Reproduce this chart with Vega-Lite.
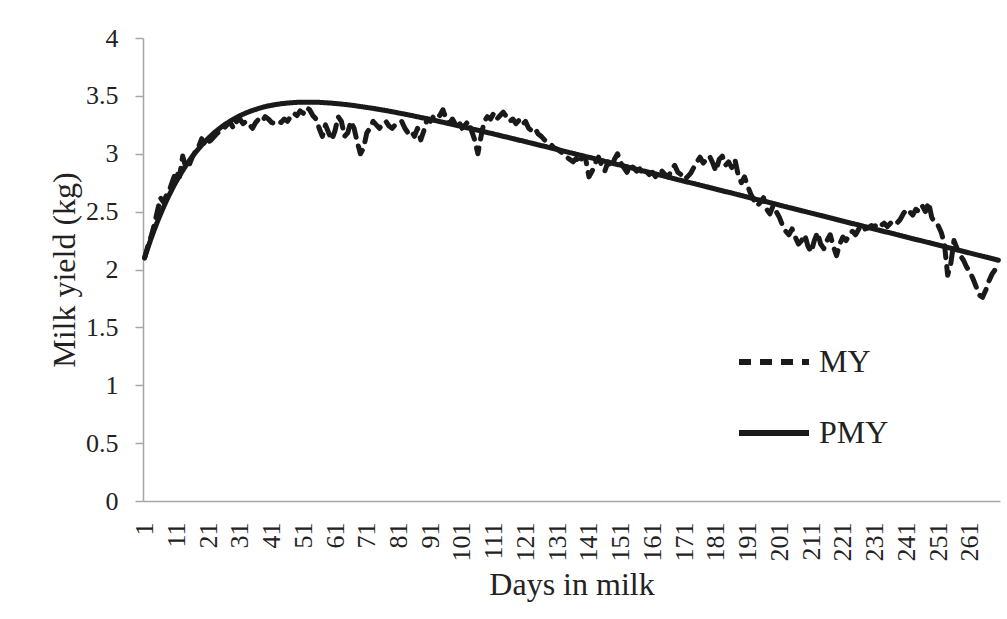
{
  "$schema": "https://vega.github.io/schema/vega-lite/v6.json",
  "width": 857,
  "height": 463,
  "autosize": {"type": "none"},
  "padding": {"left": 143, "top": 38, "right": 7, "bottom": 118},
  "background": "white",
  "config": {
    "view": {"stroke": null},
    "font": "Liberation Serif",
    "axis": {"labelFont": "Liberation Serif", "titleFont": "Liberation Serif", "labelColor": "#222", "titleColor": "#222", "domainColor": "#a6a6a6", "tickColor": "#a6a6a6", "domainWidth": 1.5, "tickWidth": 1.5, "grid": false, "labelFontSize": 26, "titleFontSize": 32, "titleFontWeight": "normal"},
    "legend": {"labelFont": "Liberation Serif", "labelFontSize": 32, "labelColor": "#222"}
  },
  "data": {
    "values": [
      {"d":1,"MY":2.10,"PMY":2.101},{"d":2,"MY":2.20,"PMY":2.184},{"d":3,"MY":2.28,"PMY":2.264},{"d":4,"MY":2.38,"PMY":2.339},{"d":5,"MY":2.50,"PMY":2.410},
      {"d":6,"MY":2.62,"PMY":2.477},{"d":7,"MY":2.58,"PMY":2.541},{"d":8,"MY":2.65,"PMY":2.601},{"d":9,"MY":2.70,"PMY":2.657},{"d":10,"MY":2.78,"PMY":2.711},
      {"d":11,"MY":2.85,"PMY":2.762},{"d":12,"MY":2.80,"PMY":2.809},{"d":13,"MY":2.98,"PMY":2.854},{"d":14,"MY":2.88,"PMY":2.897},{"d":15,"MY":2.90,"PMY":2.937},
      {"d":16,"MY":2.97,"PMY":2.975},{"d":17,"MY":3.02,"PMY":3.010},{"d":18,"MY":3.06,"PMY":3.043},{"d":19,"MY":3.13,"PMY":3.075},{"d":20,"MY":3.07,"PMY":3.104},
      {"d":21,"MY":3.10,"PMY":3.132},{"d":22,"MY":3.12,"PMY":3.158},{"d":23,"MY":3.15,"PMY":3.183},{"d":24,"MY":3.18,"PMY":3.205},{"d":25,"MY":3.20,"PMY":3.227},
      {"d":26,"MY":3.22,"PMY":3.247},{"d":27,"MY":3.25,"PMY":3.265},{"d":28,"MY":3.27,"PMY":3.283},{"d":29,"MY":3.22,"PMY":3.299},{"d":30,"MY":3.28,"PMY":3.314},
      {"d":31,"MY":3.30,"PMY":3.328},{"d":32,"MY":3.26,"PMY":3.341},{"d":33,"MY":3.28,"PMY":3.353},{"d":34,"MY":3.25,"PMY":3.364},{"d":35,"MY":3.22,"PMY":3.374},
      {"d":36,"MY":3.27,"PMY":3.383},{"d":37,"MY":3.30,"PMY":3.392},{"d":38,"MY":3.28,"PMY":3.400},{"d":39,"MY":3.32,"PMY":3.407},{"d":40,"MY":3.30,"PMY":3.413},
      {"d":41,"MY":3.27,"PMY":3.418},{"d":42,"MY":3.26,"PMY":3.424},{"d":43,"MY":3.28,"PMY":3.428},{"d":44,"MY":3.27,"PMY":3.432},{"d":45,"MY":3.30,"PMY":3.435},
      {"d":46,"MY":3.28,"PMY":3.438},{"d":47,"MY":3.32,"PMY":3.440},{"d":48,"MY":3.35,"PMY":3.442},{"d":49,"MY":3.33,"PMY":3.444},{"d":50,"MY":3.37,"PMY":3.445},
      {"d":51,"MY":3.35,"PMY":3.446},{"d":52,"MY":3.40,"PMY":3.446},{"d":53,"MY":3.38,"PMY":3.446},{"d":54,"MY":3.33,"PMY":3.445},{"d":55,"MY":3.30,"PMY":3.445},
      {"d":56,"MY":3.22,"PMY":3.444},{"d":57,"MY":3.15,"PMY":3.442},{"d":58,"MY":3.25,"PMY":3.441},{"d":59,"MY":3.18,"PMY":3.439},{"d":60,"MY":3.12,"PMY":3.437},
      {"d":61,"MY":3.20,"PMY":3.434},{"d":62,"MY":3.32,"PMY":3.432},{"d":63,"MY":3.28,"PMY":3.429},{"d":64,"MY":3.15,"PMY":3.426},{"d":65,"MY":3.18,"PMY":3.423},
      {"d":66,"MY":3.28,"PMY":3.420},{"d":67,"MY":3.22,"PMY":3.416},{"d":68,"MY":3.10,"PMY":3.412},{"d":69,"MY":3.00,"PMY":3.408},{"d":70,"MY":3.05,"PMY":3.404},
      {"d":71,"MY":3.18,"PMY":3.400},{"d":72,"MY":3.22,"PMY":3.396},{"d":73,"MY":3.28,"PMY":3.392},{"d":74,"MY":3.25,"PMY":3.387},{"d":75,"MY":3.22,"PMY":3.382},
      {"d":76,"MY":3.26,"PMY":3.378},{"d":77,"MY":3.28,"PMY":3.373},{"d":78,"MY":3.24,"PMY":3.368},{"d":79,"MY":3.22,"PMY":3.363},{"d":80,"MY":3.25,"PMY":3.358},
      {"d":81,"MY":3.27,"PMY":3.352},{"d":82,"MY":3.28,"PMY":3.347},{"d":83,"MY":3.22,"PMY":3.342},{"d":84,"MY":3.18,"PMY":3.336},{"d":85,"MY":3.20,"PMY":3.331},
      {"d":86,"MY":3.15,"PMY":3.325},{"d":87,"MY":3.22,"PMY":3.319},{"d":88,"MY":3.12,"PMY":3.313},{"d":89,"MY":3.20,"PMY":3.308},{"d":90,"MY":3.30,"PMY":3.302},
      {"d":91,"MY":3.28,"PMY":3.296},{"d":92,"MY":3.32,"PMY":3.290},{"d":93,"MY":3.35,"PMY":3.284},{"d":94,"MY":3.33,"PMY":3.278},{"d":95,"MY":3.38,"PMY":3.272},
      {"d":96,"MY":3.30,"PMY":3.266},{"d":97,"MY":3.26,"PMY":3.260},{"d":98,"MY":3.30,"PMY":3.253},{"d":99,"MY":3.25,"PMY":3.247},{"d":100,"MY":3.28,"PMY":3.241},
      {"d":101,"MY":3.22,"PMY":3.235},{"d":102,"MY":3.25,"PMY":3.228},{"d":103,"MY":3.28,"PMY":3.222},{"d":104,"MY":3.20,"PMY":3.215},{"d":105,"MY":3.12,"PMY":3.209},
      {"d":106,"MY":3.00,"PMY":3.203},{"d":107,"MY":3.15,"PMY":3.196},{"d":108,"MY":3.28,"PMY":3.190},{"d":109,"MY":3.32,"PMY":3.183},{"d":110,"MY":3.30,"PMY":3.177},
      {"d":111,"MY":3.35,"PMY":3.170},{"d":112,"MY":3.30,"PMY":3.164},{"d":113,"MY":3.33,"PMY":3.157},{"d":114,"MY":3.36,"PMY":3.150},{"d":115,"MY":3.32,"PMY":3.144},
      {"d":116,"MY":3.28,"PMY":3.137},{"d":117,"MY":3.30,"PMY":3.131},{"d":118,"MY":3.26,"PMY":3.124},{"d":119,"MY":3.29,"PMY":3.117},{"d":120,"MY":3.25,"PMY":3.111},
      {"d":121,"MY":3.28,"PMY":3.104},{"d":122,"MY":3.22,"PMY":3.097},{"d":123,"MY":3.20,"PMY":3.091},{"d":124,"MY":3.22,"PMY":3.084},{"d":125,"MY":3.17,"PMY":3.077},
      {"d":126,"MY":3.15,"PMY":3.070},{"d":127,"MY":3.12,"PMY":3.064},{"d":128,"MY":3.10,"PMY":3.057},{"d":129,"MY":3.08,"PMY":3.050},{"d":130,"MY":3.05,"PMY":3.043},
      {"d":131,"MY":3.04,"PMY":3.037},{"d":132,"MY":3.02,"PMY":3.030},{"d":133,"MY":3.00,"PMY":3.023},{"d":134,"MY":2.97,"PMY":3.016},{"d":135,"MY":2.95,"PMY":3.009},
      {"d":136,"MY":2.93,"PMY":3.003},{"d":137,"MY":2.96,"PMY":2.996},{"d":138,"MY":2.92,"PMY":2.989},{"d":139,"MY":2.98,"PMY":2.982},{"d":140,"MY":2.95,"PMY":2.975},
      {"d":141,"MY":2.80,"PMY":2.969},{"d":142,"MY":2.85,"PMY":2.962},{"d":143,"MY":2.92,"PMY":2.955},{"d":144,"MY":2.97,"PMY":2.948},{"d":145,"MY":2.90,"PMY":2.941},
      {"d":146,"MY":2.85,"PMY":2.934},{"d":147,"MY":2.93,"PMY":2.928},{"d":148,"MY":2.88,"PMY":2.921},{"d":149,"MY":2.95,"PMY":2.914},{"d":150,"MY":3.00,"PMY":2.907},
      {"d":151,"MY":2.92,"PMY":2.901},{"d":152,"MY":2.88,"PMY":2.894},{"d":153,"MY":2.84,"PMY":2.887},{"d":154,"MY":2.90,"PMY":2.880},{"d":155,"MY":2.88,"PMY":2.873},
      {"d":156,"MY":2.85,"PMY":2.866},{"d":157,"MY":2.87,"PMY":2.859},{"d":158,"MY":2.83,"PMY":2.852},{"d":159,"MY":2.85,"PMY":2.845},{"d":160,"MY":2.82,"PMY":2.839},
      {"d":161,"MY":2.84,"PMY":2.832},{"d":162,"MY":2.80,"PMY":2.825},{"d":163,"MY":2.83,"PMY":2.818},{"d":164,"MY":2.85,"PMY":2.811},{"d":165,"MY":2.82,"PMY":2.804},
      {"d":166,"MY":2.80,"PMY":2.797},{"d":167,"MY":2.86,"PMY":2.790},{"d":168,"MY":2.90,"PMY":2.783},{"d":169,"MY":2.84,"PMY":2.776},{"d":170,"MY":2.82,"PMY":2.770},
      {"d":171,"MY":2.78,"PMY":2.763},{"d":172,"MY":2.80,"PMY":2.756},{"d":173,"MY":2.83,"PMY":2.749},{"d":174,"MY":2.88,"PMY":2.742},{"d":175,"MY":2.93,"PMY":2.736},
      {"d":176,"MY":2.97,"PMY":2.729},{"d":177,"MY":2.92,"PMY":2.722},{"d":178,"MY":2.95,"PMY":2.715},{"d":179,"MY":2.98,"PMY":2.708},{"d":180,"MY":2.92,"PMY":2.701},
      {"d":181,"MY":2.85,"PMY":2.694},{"d":182,"MY":2.95,"PMY":2.687},{"d":183,"MY":2.98,"PMY":2.680},{"d":184,"MY":2.90,"PMY":2.673},{"d":185,"MY":2.93,"PMY":2.667},
      {"d":186,"MY":2.88,"PMY":2.660},{"d":187,"MY":2.95,"PMY":2.653},{"d":188,"MY":2.82,"PMY":2.646},{"d":189,"MY":2.75,"PMY":2.639},{"d":190,"MY":2.80,"PMY":2.632},
      {"d":191,"MY":2.72,"PMY":2.625},{"d":192,"MY":2.65,"PMY":2.618},{"d":193,"MY":2.60,"PMY":2.611},{"d":194,"MY":2.55,"PMY":2.604},{"d":195,"MY":2.58,"PMY":2.598},
      {"d":196,"MY":2.62,"PMY":2.591},{"d":197,"MY":2.52,"PMY":2.584},{"d":198,"MY":2.48,"PMY":2.577},{"d":199,"MY":2.55,"PMY":2.570},{"d":200,"MY":2.50,"PMY":2.563},
      {"d":201,"MY":2.45,"PMY":2.556},{"d":202,"MY":2.38,"PMY":2.549},{"d":203,"MY":2.33,"PMY":2.542},{"d":204,"MY":2.30,"PMY":2.535},{"d":205,"MY":2.35,"PMY":2.529},
      {"d":206,"MY":2.28,"PMY":2.522},{"d":207,"MY":2.22,"PMY":2.515},{"d":208,"MY":2.25,"PMY":2.508},{"d":209,"MY":2.30,"PMY":2.501},{"d":210,"MY":2.20,"PMY":2.494},
      {"d":211,"MY":2.15,"PMY":2.487},{"d":212,"MY":2.25,"PMY":2.480},{"d":213,"MY":2.32,"PMY":2.473},{"d":214,"MY":2.22,"PMY":2.467},{"d":215,"MY":2.18,"PMY":2.460},
      {"d":216,"MY":2.25,"PMY":2.453},{"d":217,"MY":2.30,"PMY":2.446},{"d":218,"MY":2.20,"PMY":2.439},{"d":219,"MY":2.12,"PMY":2.432},{"d":220,"MY":2.22,"PMY":2.425},
      {"d":221,"MY":2.28,"PMY":2.418},{"d":222,"MY":2.25,"PMY":2.411},{"d":223,"MY":2.30,"PMY":2.404},{"d":224,"MY":2.33,"PMY":2.397},{"d":225,"MY":2.30,"PMY":2.391},
      {"d":226,"MY":2.35,"PMY":2.384},{"d":227,"MY":2.38,"PMY":2.377},{"d":228,"MY":2.35,"PMY":2.370},{"d":229,"MY":2.36,"PMY":2.363},{"d":230,"MY":2.38,"PMY":2.356},
      {"d":231,"MY":2.37,"PMY":2.349},{"d":232,"MY":2.40,"PMY":2.342},{"d":233,"MY":2.38,"PMY":2.335},{"d":234,"MY":2.40,"PMY":2.328},{"d":235,"MY":2.37,"PMY":2.322},
      {"d":236,"MY":2.40,"PMY":2.315},{"d":237,"MY":2.42,"PMY":2.308},{"d":238,"MY":2.40,"PMY":2.301},{"d":239,"MY":2.43,"PMY":2.294},{"d":240,"MY":2.48,"PMY":2.287},
      {"d":241,"MY":2.52,"PMY":2.280},{"d":242,"MY":2.50,"PMY":2.273},{"d":243,"MY":2.47,"PMY":2.266},{"d":244,"MY":2.52,"PMY":2.259},{"d":245,"MY":2.50,"PMY":2.253},
      {"d":246,"MY":2.55,"PMY":2.246},{"d":247,"MY":2.50,"PMY":2.239},{"d":248,"MY":2.58,"PMY":2.232},{"d":249,"MY":2.45,"PMY":2.225},{"d":250,"MY":2.40,"PMY":2.218},
      {"d":251,"MY":2.38,"PMY":2.211},{"d":252,"MY":2.32,"PMY":2.204},{"d":253,"MY":2.22,"PMY":2.197},{"d":254,"MY":1.95,"PMY":2.190},{"d":255,"MY":2.05,"PMY":2.184},
      {"d":256,"MY":2.25,"PMY":2.177},{"d":257,"MY":2.18,"PMY":2.170},{"d":258,"MY":2.12,"PMY":2.163},{"d":259,"MY":2.08,"PMY":2.156},{"d":260,"MY":2.02,"PMY":2.149},
      {"d":261,"MY":1.98,"PMY":2.142},{"d":262,"MY":1.92,"PMY":2.135},{"d":263,"MY":1.85,"PMY":2.128},{"d":264,"MY":1.78,"PMY":2.121},{"d":265,"MY":1.76,"PMY":2.115},
      {"d":266,"MY":1.82,"PMY":2.108},{"d":267,"MY":1.90,"PMY":2.101},{"d":268,"MY":1.96,"PMY":2.094},{"d":269,"MY":2.00,"PMY":2.087},{"d":270,"MY":2.05,"PMY":2.080}
    ]
  },
  "transform": [{"fold": ["MY", "PMY"], "as": ["series", "value"]}],
  "mark": {"type": "line", "strokeWidth": 5, "color": "#1a1a1a", "strokeCap": "round", "strokeJoin": "round"},
  "encoding": {
    "x": {
      "field": "d", "type": "quantitative",
      "scale": {"domain": [0.5, 270.5], "nice": false, "zero": false},
      "axis": {"title": "Days in milk", "values": [1,11,21,31,41,51,61,71,81,91,101,111,121,131,141,151,161,171,181,191,201,211,221,231,241,251,261], "labelAngle": -90, "ticks": false, "tickSize": 0, "labelPadding": 21, "labelOverlap": false, "labelFlush": false, "titlePadding": 8}
    },
    "y": {
      "field": "value", "type": "quantitative",
      "scale": {"domain": [0, 4], "nice": false},
      "axis": {"title": "Milk yield (kg)", "values": [0,0.5,1,1.5,2,2.5,3,3.5,4], "format": "~g", "tickSize": 8, "labelPadding": 17, "titlePadding": 4}
    },
    "detail": {"field": "series"},
    "strokeDash": {
      "field": "series", "type": "nominal",
      "scale": {"domain": ["MY", "PMY"], "range": [[12, 9], [1, 0]]},
      "legend": {"title": null, "orient": "none", "legendX": 593, "legendY": 286, "symbolType": "stroke", "symbolSize": 4900, "symbolStrokeWidth": 6, "symbolStrokeColor": "#1a1a1a", "labelOffset": 7, "rowPadding": 17, "padding": 0}
    }
  }
}
